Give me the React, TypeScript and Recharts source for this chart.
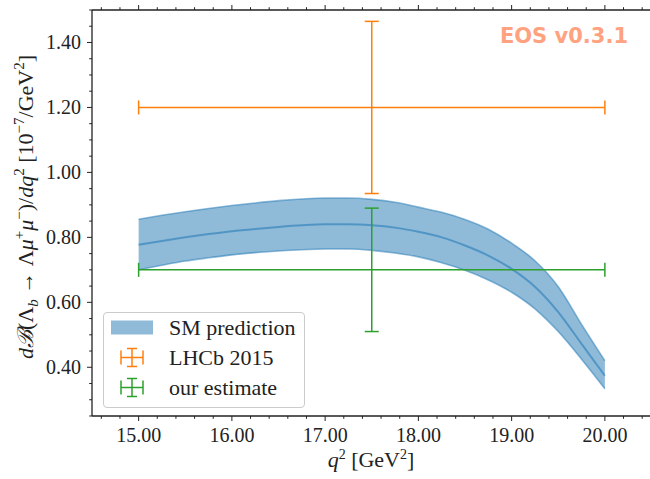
import {
  ComposedChart,
  Area,
  Line,
  Scatter,
  ErrorBar,
  XAxis,
  YAxis
} from 'recharts';

// SM prediction band
const qValues = [15, 15.25, 15.5, 15.75, 16, 16.25, 16.5, 16.75, 17, 17.25, 17.5, 17.75, 18, 18.25, 18.5, 18.75, 19, 19.25, 19.5, 19.75, 20];
const smUpper = [0.856, 0.868, 0.879, 0.889, 0.898, 0.906, 0.913, 0.918, 0.921, 0.921, 0.917, 0.908, 0.893, 0.877, 0.855, 0.825, 0.782, 0.728, 0.648, 0.532, 0.42];
const smCentral = [0.777, 0.789, 0.8, 0.81, 0.819, 0.826, 0.832, 0.837, 0.84, 0.84, 0.837, 0.83, 0.817, 0.8, 0.775, 0.744, 0.703, 0.648, 0.57, 0.472, 0.374];
const smLower = [0.7, 0.714, 0.727, 0.737, 0.746, 0.753, 0.758, 0.762, 0.764, 0.764, 0.76, 0.752, 0.74, 0.722, 0.699, 0.669, 0.631, 0.58, 0.51, 0.425, 0.334];

// measurements: bin centre, value, half-widths
const lhcbPoint = { q: 17.5, value: 1.2, qErr: 2.5, valueErr: 0.265 };
const estimatePoint = { q: 17.5, value: 0.7, qErr: 2.5, valueErr: 0.19 };

const xMajorTicks = [15, 16, 17, 18, 19, 20];
const xTickLabels = ['15.00', '16.00', '17.00', '18.00', '19.00', '20.00'];
const yMajorTicks = [0.4, 0.6, 0.8, 1.0, 1.2, 1.4];
const yTickLabels = ['0.40', '0.60', '0.80', '1.00', '1.20', '1.40'];

const legendNames = ['SM prediction', 'LHCb 2015', 'our estimate'];

const X_DOMAIN = [14.5, 20.5];
const Y_DOMAIN = [0.25, 1.5];

const BLUE = '#1f77b4';
const ORANGE = '#ff7f0e';
const GREEN = '#2ca02c';
const INK = '#222222';
const SERIF = '"Liberation Serif", "DejaVu Serif", serif';

const round2 = (v: number) => Math.round(v * 100) / 100;

function buildTicks(from: number, to: number, step: number) {
  const out: number[] = [];
  for (let v = from; v <= to + 1e-9; v += step) out.push(round2(v));
  return out;
}

const xTicks = buildTicks(14.6, 20.4, 0.2);
const yTicks = buildTicks(0.25, 1.5, 0.05);

const chartData = qValues.map((q, i) => ({
  q,
  lower: smLower[i],
  central: smCentral[i],
  upper: smUpper[i],
  band: [smLower[i], smUpper[i]]
}));

function BottomTick(props: any) {
  const { x, y, payload } = props;
  const idx = xMajorTicks.indexOf(round2(payload.value));
  const major = idx >= 0;
  return (
    <g>
      <line x1={x} x2={x} y1={y} y2={y + (major ? 5 : 2.8)} stroke={INK} strokeWidth={1} />
      {major && (
        <text x={x} y={y + 26} textAnchor="middle" fontFamily={SERIF} fontSize={20} fill={INK}>
          {xTickLabels[idx]}
        </text>
      )}
    </g>
  );
}

function TopTick(props: any) {
  const { x, y, payload } = props;
  const major = xMajorTicks.indexOf(round2(payload.value)) >= 0;
  return <line x1={x} x2={x} y1={y} y2={y - (major ? 5 : 2.8)} stroke={INK} strokeWidth={1} />;
}

function LeftTick(props: any) {
  const { x, y, payload } = props;
  const idx = yMajorTicks.findIndex((t) => Math.abs(t - payload.value) < 1e-6);
  const major = idx >= 0;
  return (
    <g>
      <line x1={x} x2={x - (major ? 5 : 2.8)} y1={y} y2={y} stroke={INK} strokeWidth={1} />
      {major && (
        <text x={x - 11} y={y + 7} textAnchor="end" fontFamily={SERIF} fontSize={20} fill={INK}>
          {yTickLabels[idx]}
        </text>
      )}
    </g>
  );
}

function ErrorIcon({ cx, cy, color }: { cx: number; cy: number; color: string }) {
  return (
    <g stroke={color} strokeWidth={1.5}>
      <line x1={cx - 11} x2={cx + 11} y1={cy} y2={cy} />
      <line x1={cx - 11} x2={cx - 11} y1={cy - 7} y2={cy + 7} />
      <line x1={cx + 11} x2={cx + 11} y1={cy - 7} y2={cy + 7} />
      <line x1={cx} x2={cx} y1={cy - 9} y2={cy + 9} />
      <line x1={cx - 5} x2={cx + 5} y1={cy - 9} y2={cy - 9} />
      <line x1={cx - 5} x2={cx + 5} y1={cy + 9} y2={cy + 9} />
    </g>
  );
}

function LegendBox() {
  return (
    <div
      style={{
        position: 'absolute',
        left: 103,
        top: 312,
        width: 202,
        height: 96,
        boxSizing: 'border-box',
        border: '1px solid #cccccc',
        borderRadius: 4,
        background: 'rgba(255,255,255,0.8)'
      }}
    >
      <svg width={200} height={94} style={{ display: 'block' }}>
        {legendNames.map((name, i) => {
          const cy = 14.5 + i * 30;
          return (
            <g key={name}>
              {i === 0 ? (
                <rect x={7} y={cy - 7} width={42} height={14} fill={BLUE} fillOpacity={0.5} />
              ) : (
                <ErrorIcon cx={28} cy={cy} color={i === 1 ? ORANGE : GREEN} />
              )}
              <text x={65} y={cy + 7} fontFamily={SERIF} fontSize={22} fill={INK}>
                {name}
              </text>
            </g>
          );
        })}
      </svg>
    </div>
  );
}

const hidden = () => <g />;

export default function App() {
  return (
    <div
      style={{
        position: 'fixed',
        left: 0,
        top: 0,
        width: 650,
        height: 479,
        overflow: 'hidden',
        background: '#fff'
      }}
    >
      <ComposedChart
        width={670}
        height={479}
        data={chartData}
        margin={{ top: 9, right: 18.5, bottom: 62, left: 91 }}
      >
        <XAxis
          dataKey="q"
          type="number"
          domain={X_DOMAIN}
          allowDataOverflow
          ticks={xTicks}
          interval={0}
          height={1}
          tickSize={0}
          tickMargin={0}
          tickLine={false}
          tick={<BottomTick />}
          axisLine={{ stroke: INK, strokeWidth: 1.3 }}
        />
        <XAxis
          xAxisId="top"
          orientation="top"
          dataKey="q"
          type="number"
          domain={X_DOMAIN}
          allowDataOverflow
          ticks={xTicks}
          interval={0}
          height={1}
          tickSize={0}
          tickMargin={0}
          tickLine={false}
          tick={<TopTick />}
          axisLine={{ stroke: INK, strokeWidth: 1.3 }}
        />
        <YAxis
          type="number"
          domain={Y_DOMAIN}
          allowDataOverflow
          ticks={yTicks}
          interval={0}
          width={1}
          tickSize={0}
          tickMargin={0}
          tickLine={false}
          tick={<LeftTick />}
          axisLine={{ stroke: INK, strokeWidth: 1.3 }}
        />
        <Line
          xAxisId="top"
          dataKey="central"
          stroke="none"
          dot={false}
          legendType="none"
          isAnimationActive={false}
        />
        <Area
          type="monotone"
          dataKey="band"
          fill={BLUE}
          fillOpacity={0.5}
          stroke="none"
          isAnimationActive={false}
          legendType="none"
        />
        <Line type="monotone" dataKey="upper" stroke={BLUE} strokeOpacity={0.5} strokeWidth={1.6} dot={false} isAnimationActive={false} legendType="none" />
        <Line type="monotone" dataKey="lower" stroke={BLUE} strokeOpacity={0.5} strokeWidth={1.6} dot={false} isAnimationActive={false} legendType="none" />
        <Line type="monotone" dataKey="central" stroke={BLUE} strokeOpacity={0.55} strokeWidth={2} dot={false} isAnimationActive={false} legendType="none" />
        <Scatter data={[lhcbPoint]} dataKey="value" fill={ORANGE} shape={hidden} isAnimationActive={false} legendType="none">
          <ErrorBar dataKey="qErr" direction="x" width={7} stroke={ORANGE} strokeWidth={1.5} isAnimationActive={false} />
          <ErrorBar dataKey="valueErr" direction="y" width={7} stroke={ORANGE} strokeWidth={1.5} isAnimationActive={false} />
        </Scatter>
        <Scatter data={[estimatePoint]} dataKey="value" fill={GREEN} shape={hidden} isAnimationActive={false} legendType="none">
          <ErrorBar dataKey="qErr" direction="x" width={7} stroke={GREEN} strokeWidth={1.5} isAnimationActive={false} />
          <ErrorBar dataKey="valueErr" direction="y" width={7} stroke={GREEN} strokeWidth={1.5} isAnimationActive={false} />
        </Scatter>
      </ComposedChart>
      <LegendBox />
      <svg
        width={650}
        height={479}
        style={{ position: 'absolute', left: 0, top: 0, pointerEvents: 'none' }}
      >
        <text
          x={628}
          y={43}
          textAnchor="end"
          fontFamily='"DejaVu Sans", sans-serif'
          fontWeight="bold"
          fontSize={21}
          fill="#ffa280"
        >
          EOS v0.3.1
        </text>
        <text x={371} y={467} textAnchor="middle" fontFamily={SERIF} fontSize={22} fill={INK}>
          <tspan fontStyle="italic">q</tspan>
          <tspan fontSize={14} dy={-8}>2</tspan>
          <tspan dy={8}>{' [GeV'}</tspan>
          <tspan fontSize={14} dy={-8}>2</tspan>
          <tspan dy={8}>]</tspan>
        </text>
        <text
          transform="translate(33,207) rotate(-90)"
          textAnchor="middle"
          fontFamily={SERIF}
          fontSize={22}
          fill={INK}
        >
          <tspan fontStyle="italic">dℬ</tspan>
          <tspan>(Λ</tspan>
          <tspan fontStyle="italic" fontSize={15} dy={5}>b</tspan>
          <tspan dy={-5}>{' → Λ'}</tspan>
          <tspan fontStyle="italic">μ</tspan>
          <tspan fontSize={15} dy={-9}>+</tspan>
          <tspan fontStyle="italic" dy={9}>μ</tspan>
          <tspan fontSize={15} dy={-9}>−</tspan>
          <tspan dy={9}>)/</tspan>
          <tspan fontStyle="italic">dq</tspan>
          <tspan fontSize={15} dy={-9}>2</tspan>
          <tspan dy={9}>{' [10'}</tspan>
          <tspan fontSize={15} dy={-9}>−7</tspan>
          <tspan dy={9}>/GeV</tspan>
          <tspan fontSize={15} dy={-9}>2</tspan>
          <tspan dy={9}>]</tspan>
        </text>
      </svg>
    </div>
  );
}
